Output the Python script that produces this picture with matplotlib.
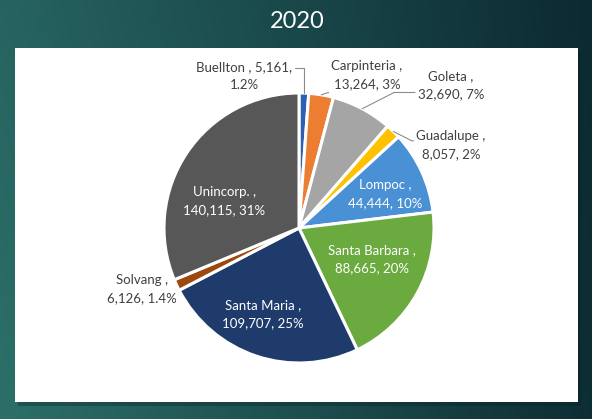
import numpy as np
import matplotlib
matplotlib.use("Agg")
import matplotlib.pyplot as plt
from matplotlib.colors import LinearSegmentedColormap
from matplotlib.patches import Rectangle

# data
cities = ["Buellton", "Carpinteria", "Goleta", "Guadalupe", "Lompoc",
          "Santa Barbara", "Santa Maria", "Solvang", "Unincorp."]
population = [5161, 13264, 32690, 8057, 44444, 88665, 109707, 6126, 140115]
pct_text = ["1.2%", "3%", "7%", "2%", "10%", "20%", "25%", "1.4%", "31%"]
title = "2020"

colors = ["#2f5fb3", "#ed7d31", "#a5a5a5", "#ffc000", "#4a90d4",
          "#6aaa3f", "#1f3b6b", "#9e480e", "#575757"]

plt.rcParams["font.family"] = ["Lato", "DejaVu Sans"]

W, H = 592, 419
fig = plt.figure(figsize=(W / 100, H / 100), dpi=100)

# background gradient
bg = fig.add_axes([0, 0, 1, 1])
bg.set_axis_off()
gx = np.linspace(0, 1, 300)
gy = np.linspace(0, 1, 200)
X, Y = np.meshgrid(gx, gy)
t = np.clip(0.75 * X + 0.15 * (1 - Y) + 0.1 * X * Y, 0, 1)
cmap = LinearSegmentedColormap.from_list("bg", ["#2c6f69", "#1c4d4f", "#0c2a31"])
bg.imshow(t, cmap=cmap, extent=[0, W, H, 0], aspect="auto")
bg.set_xlim(0, W)
bg.set_ylim(H, 0)
# white panel with faint shadow
bg.add_patch(Rectangle((18, 51), 563, 355, color="#0a1f24", alpha=0.35, lw=0))
bg.add_patch(Rectangle((15, 48), 563, 354, color="white", lw=0))
bg.text(W / 2 + 1, 21, title, color="white", fontsize=17,
        ha="center", va="center")

# pie axes, 1 unit = 135 px, centre at (299, 228)
cx, cy, R = 299, 228, 135
ax = fig.add_axes([0, 0, 1, 1])
ax.set_axis_off()
ax.patch.set_alpha(0)
wedges, _ = ax.pie(population, colors=colors, startangle=90, counterclock=False,
                   radius=1, wedgeprops=dict(edgecolor="white", linewidth=2.2))
ax.set_xlim(-cx / R, (W - cx) / R)
ax.set_ylim(-(H - cy) / R, cy / R)
ax.set_aspect("equal")

labels = []
for c, v, p in zip(cities, population, pct_text):
    labels.append((c, f"{v:,}", p))

fs = 9.5
# inside labels: (index, radius fraction, angle shift in degrees)
inside = {4: (0.685, -3), 5: (0.59, 5.8), 6: (0.69, -4.2), 8: (0.59, 13.9)}
for i, (rr, shift) in inside.items():
    w = wedges[i]
    a = np.deg2rad((w.theta1 + w.theta2) / 2 + shift)
    c, v, p = labels[i]
    ax.text(rr * np.cos(a), rr * np.sin(a), f"{c} ,\n{v}, {p}", color="white",
            fontsize=fs, ha="center", va="center", linespacing=1.6)

# outside labels: text position in px, leader props
outside = {
    0: ((244, 76), (1.0, 0.78), "angle,angleA=0,angleB=90,rad=0"),
    1: ((367, 75), (0.2, 0.1), "arc3"),
    2: ((451, 85), (0.0, 0.25), "angle,angleA=0,angleB=27,rad=0"),
    3: ((451, 145), (0.0, 0.64), "angle,angleA=0,angleB=-27,rad=0"),
    7: ((142, 289), None, None),
}
for i, (pos, rel, conn) in outside.items():
    w = wedges[i]
    a = np.deg2rad((w.theta1 + w.theta2) / 2)
    c, v, p = labels[i]
    if i == 0:
        txt = f"{c} , {v},\n{p}"
    else:
        txt = f"{c} ,\n{v}, {p}"
    tx, ty = (pos[0] - cx) / R, (cy - pos[1]) / R
    if rel is None:
        ax.text(tx, ty, txt, color="#404040", fontsize=fs, ha="center",
                va="center", linespacing=1.6)
    else:
        ax.annotate(txt, xy=(np.cos(a), np.sin(a)), xytext=(tx, ty),
                    color="#404040", fontsize=fs, ha="center", va="center",
                    linespacing=1.6,
                    arrowprops=dict(arrowstyle="-", color="#8c8c8c", lw=0.8,
                                    relpos=rel, connectionstyle=conn,
                                    shrinkA=0, shrinkB=0))

fig.savefig("out.png", dpi=100)
